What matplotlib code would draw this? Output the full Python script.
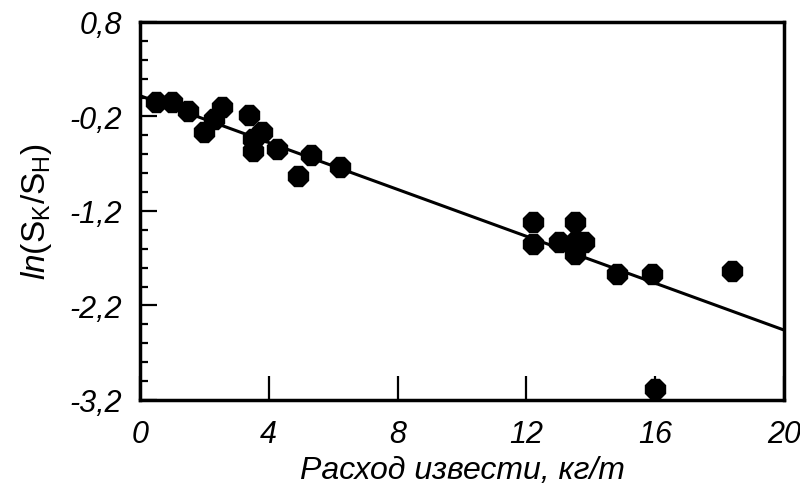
import numpy as np
import matplotlib
matplotlib.use("Agg")
import matplotlib.pyplot as plt
from matplotlib.ticker import MultipleLocator, FixedLocator, FuncFormatter

plt.rcParams['font.family'] = ['Liberation Sans', 'DejaVu Sans']
plt.rcParams['mathtext.fontset'] = 'custom'
plt.rcParams['mathtext.rm'] = 'Liberation Sans'
plt.rcParams['mathtext.it'] = 'Liberation Sans:italic'

# lime consumption, kg/t  vs  ln(Sk/Sh)
lime = [0.5, 1.0, 1.5, 2.0, 2.3, 2.55, 3.4, 3.5, 3.5, 3.8, 4.25, 4.9, 5.3, 6.2,
        12.2, 12.2, 13.0, 13.5, 13.5, 13.8, 13.5, 14.8, 15.9, 18.4, 16.0]
ln_ratio = [-0.05, -0.05, -0.14, -0.36, -0.23, -0.10, -0.18, -0.44, -0.57, -0.36,
            -0.54, -0.83, -0.61, -0.73,
            -1.32, -1.55, -1.53, -1.32, -1.65, -1.53, -1.53, -1.87, -1.87, -1.83, -3.08]

# regression line ends
line_x = [0, 20]
line_y = [0.02, -2.46]

y_ticks = [-3.2, -2.2, -1.2, -0.2, 0.8]
x_ticks = [0, 4, 8, 12, 16, 20]

fig = plt.figure(figsize=(8, 4.89), dpi=100)
ax = fig.add_axes([0.175, 0.18, 0.805, 0.773])

ax.plot(line_x, line_y, color='black', lw=2.2, zorder=2)
ax.plot(lime, ln_ratio, linestyle='none', marker='8', markersize=16,
        color='black', zorder=3, clip_on=False)

ax.set_xlim(0, 20)
ax.set_ylim(-3.2, 0.8)
ax.xaxis.set_major_locator(FixedLocator(x_ticks))
ax.yaxis.set_major_locator(FixedLocator(y_ticks))
ax.yaxis.set_minor_locator(MultipleLocator(0.2))

comma = FuncFormatter(lambda v, p: ('%g' % round(v, 1)).replace('.', ','))
ax.xaxis.set_major_formatter(comma)
ax.yaxis.set_major_formatter(comma)

for s in ax.spines.values():
    s.set_linewidth(2.5)

ax.tick_params(axis='y', which='major', direction='in', length=12, width=1.6, pad=13)
ax.tick_params(axis='y', which='minor', direction='in', length=6, width=1.6)
ax.tick_params(axis='x', which='major', direction='in', length=17, width=1.6, pad=14)
ax.tick_params(labelsize=22)
for lab in ax.get_xticklabels() + ax.get_yticklabels():
    lab.set_fontstyle('italic')

ax.set_xlabel('Расход извести, кг/т', fontsize=23, fontstyle='italic', labelpad=4)
ax.set_ylabel(r'$\mathit{ln}(\mathrm{S_K/S_H})$', fontsize=24, labelpad=11)

fig.savefig('out.png', dpi=100)
